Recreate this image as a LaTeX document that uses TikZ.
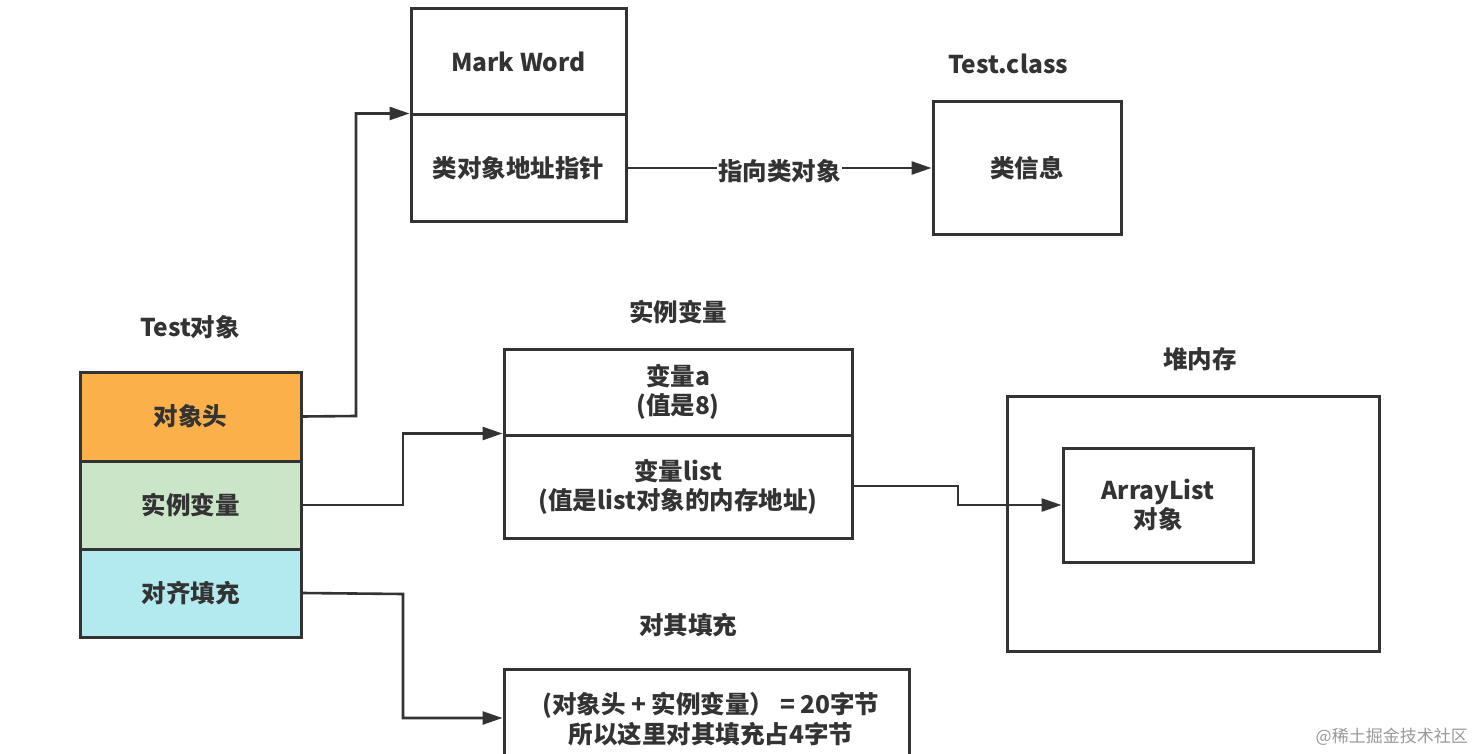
\documentclass[tikz,border=0pt]{standalone}
\usepackage{fontspec}
\setmainfont{Noto Sans CJK SC}
\usetikzlibrary{arrows.meta}
\definecolor{ln}{HTML}{333333}
\definecolor{orangeF}{HTML}{FBB04A}
\definecolor{greenF}{HTML}{CBE5C9}
\definecolor{cyanF}{HTML}{B2EAEF}
\tikzset{
  box/.style={draw=ln, line width=3pt, minimum width=#1, inner sep=0pt, align=center, text=ln},
  lbl/.style={text=ln, align=center, inner sep=0pt},
  conn/.style={draw=ln, line width=2.6pt, -{Triangle[length=20pt,width=13pt]}},
}
\begin{document}
\begin{tikzpicture}[x=1pt,y=-1pt,font=\fontsize{24.5}{29}\selectfont\bfseries]
\useasboundingbox (0,0) rectangle (1477,754);
\clip (0,0) rectangle (1477,754);
\fill[white] (0,0) rectangle (1477,754);

% left stack
\node[box=221pt, minimum height=89pt, fill=orangeF] (hdr) at (190.5,416.5) {对象头};
\node[box=221pt, minimum height=88pt, fill=greenF] (inst) at (190.5,505) {实例变量};
\node[box=221pt, minimum height=88pt, fill=cyanF] (pad) at (190.5,593) {对齐填充};
\node[lbl] (tl) at (190,327) {Test对象};

% Mark Word box
\node[box=215pt, minimum height=106pt] (mw) at (518.5,62) {Mark Word};
\node[box=215pt, minimum height=106pt] (kp) at (518.5,168) {类对象地址指针};

% Test.class
\node[lbl] (tcl) at (1008,64) {Test.class};
\node[box=188pt, minimum height=132pt] (ci) at (1027,168) {类信息};

% instance variable box
\node[lbl] (ivl) at (678,312) {实例变量};
\node[box=348pt, minimum height=86pt] (va) at (678,392) {变量a\\(值是8)};
\node[box=348pt, minimum height=103pt] (vl) at (678,486.5) {变量list\\(值是list对象的内存地址)};

% heap
\node[lbl] (hl) at (1200,359) {堆内存};
\node[box=372pt, minimum height=255pt] (heap) at (1193,523.5) {};
\node[box=190pt, minimum height=114pt] (al) at (1158,505) {ArrayList\\对象};

% padding box
\node[lbl] (pl) at (688,625) {对其填充};
\node[box=405pt, minimum height=120pt, anchor=north] (pb) at (706.5,668) {};
\node[lbl, font=\fontsize{24.5}{30}\selectfont\bfseries] (pt) at (711,719) {(对象头 + 实例变量） = 20字节\\所以这里对其填充占4字节};

% connectors
\coordinate (c1) at (356,416);
\draw[conn] (hdr.east) -- (c1) |- (kp.north west);
\coordinate (c2) at (403,505);
\draw[conn] (inst.east) -- (c2) |- (vl.north west);
\coordinate (c3) at (403,594);
\draw[conn] (pad.east) -- (c3) |- (pb.west |- 0,718);
\draw[conn] (kp.east) -- (ci.west |- kp.east) node[pos=0.5, fill=white, inner sep=1pt, text=ln, yshift=-3pt] (ptr) {指向类对象};
\coordinate (c4) at (958,486);
\draw[conn] (vl.east |- c4) -- (c4) |- (al.west);

% watermark
\node[anchor=east, inner sep=0pt, text=black!40, font=\fontsize{17}{20}\selectfont] (wm) at (1468,737) {@稀土掘金技术社区};
\end{tikzpicture}
\end{document}
